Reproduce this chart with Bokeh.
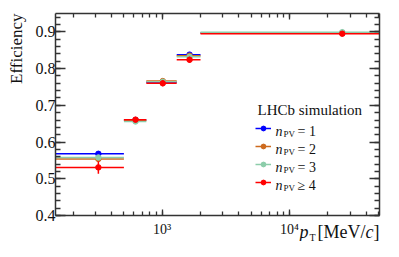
import math
from bokeh.plotting import figure
from bokeh.models import (Range1d, LogAxis, LinearAxis, FixedTicker, LogTicker,
                          Label, Legend, LegendItem, ColumnDataSource,
                          CustomJSTickFormatter, Title)
from bokeh.core.properties import value
from bokeh.embed import file_html
from bokeh.resources import INLINE

# ---------------- data ----------------
bin_edges = [100, 500, 750, 1300, 2000, 100000]      # pT bin edges [MeV/c]
pt_mean = [315, 617, 1010, 1640, 26000]              # point positions [MeV/c]

eff_npv1 = [0.568, 0.660, 0.763, 0.838, 0.897]
eff_npv2 = [0.554, 0.659, 0.766, 0.835, 0.897]
eff_npv3 = [0.558, 0.656, 0.764, 0.832, 0.899]
eff_npv4 = [0.531, 0.661, 0.760, 0.824, 0.895]

err_npv1 = [0.004, 0.003, 0.002, 0.002, 0.001]
err_npv2 = [0.005, 0.004, 0.003, 0.003, 0.002]
err_npv3 = [0.007, 0.005, 0.004, 0.004, 0.002]
err_npv4 = [0.017, 0.007, 0.008, 0.008, 0.003]

series_rel = ["=", "=", "=", "≥"]
series_num = ["1", "2", "3", "4"]
colors = ["#0000ff", "#cd6a1e", "#8ccdaa", "#ff0000"]

y_major = [0.4, 0.5, 0.6, 0.7, 0.8, 0.9]
y_minor = [round(0.4 + 0.02 * i, 2) for i in range(28)]
x_labels = {1000: "10³", 10000: "10⁴"}

FONT = "Liberation Serif"
INK = "#111111"

# ---------------- figure ----------------
p = figure(width=383, height=241, x_axis_type="log",
           x_range=Range1d(145, 51000), y_range=Range1d(0.4, 0.95),
           output_backend="svg", toolbar_location=None,
           min_border_left=55, min_border_right=4,
           min_border_top=13, min_border_bottom=26)
p.grid.visible = False
p.outline_line_color = None
p.background_fill_color = "white"


def style_axis(ax, major_in, minor_in):
    ax.axis_line_color = "#333333"
    ax.axis_line_width = 1.5
    ax.major_tick_line_color = "#333333"
    ax.minor_tick_line_color = "#333333"
    ax.major_tick_line_width = 1.3
    ax.minor_tick_line_width = 1.3
    ax.major_tick_in = major_in
    ax.major_tick_out = 0
    ax.minor_tick_in = minor_in
    ax.minor_tick_out = 0
    ax.major_label_text_font = FONT
    ax.major_label_text_color = INK


xticker = LogTicker(num_minor_ticks=10)
yticker = FixedTicker(ticks=y_major, minor_ticks=y_minor)

xb = p.xaxis[0]
xb.ticker = xticker
style_axis(xb, 6, 4)
xb.formatter = CustomJSTickFormatter(
    args=dict(labels={str(k): v for k, v in x_labels.items()}),
    code="const k = String(Math.round(tick)); return (k in labels) ? labels[k] : '';")
xb.major_label_text_font_size = "14px"
xb.major_label_standoff = 6

yl = p.yaxis[0]
yl.ticker = yticker
style_axis(yl, 10, 5)
yl.major_label_text_font_size = "16px"
yl.major_label_standoff = 0

blank = CustomJSTickFormatter(code="return '';")

xt = LogAxis(ticker=xticker, formatter=blank)
style_axis(xt, 6, 4)
xt.major_label_text_font_size = "1px"
xt.major_label_standoff = 0
p.add_layout(xt, "above")

yr = LinearAxis(ticker=yticker, formatter=blank)
style_axis(yr, 10, 5)
yr.major_label_text_font_size = "1px"
yr.major_label_standoff = 0
p.add_layout(yr, "right")


def side_title(text, side, size, style="normal", align="left",
               valign="top", standoff=0, offset=0):
    p.add_layout(Title(text=text, align=align, vertical_align=valign,
                       text_font=FONT, text_font_size=f"{size}px",
                       text_font_style=style, text_line_height=1.0,
                       text_color=INK, standoff=standoff, offset=offset),
                 side)


# y-axis title, top aligned
side_title("Efficiency", "left", 17, align="right", valign="top", standoff=10)

# x-axis title, right aligned, on the tick-label row
side_title("]", "below", 18, align="right", standoff=-36, offset=0)
side_title("c", "below", 18, style="italic", align="right", standoff=-36,
           offset=6)
side_title("[MeV/", "below", 18, align="right", standoff=-36, offset=14)
side_title("p", "below", 18, style="italic", align="left", standoff=-36,
           offset=244)
side_title("T", "below", 10, align="left", standoff=-16, offset=254)

# ---------------- data marks ----------------
effs = [eff_npv1, eff_npv2, eff_npv3, eff_npv4]
errs = [err_npv1, err_npv2, err_npv3, err_npv4]
items = []
for eff, err, col in zip(effs, errs, colors):
    src = ColumnDataSource(dict(
        x=pt_mean, x0=bin_edges[:-1], x1=bin_edges[1:], y=eff,
        ylo=[e - d for e, d in zip(eff, err)],
        yhi=[e + d for e, d in zip(eff, err)]))
    h = p.segment(x0="x0", y0="y", x1="x1", y1="y", source=src,
                  line_color=col, line_width=1.5)
    v = p.segment(x0="x", y0="ylo", x1="x", y1="yhi", source=src,
                  line_color=col, line_width=1.5)
    m = p.scatter("x", "y", source=src, size=5.5, color=col)
    items.append(LegendItem(label=value(" "), renderers=[h, m]))

legend = Legend(items=items, location=(200, 27), glyph_width=16,
                glyph_height=12, label_height=12, label_width=1,
                label_standoff=0, spacing=6, padding=0, margin=0,
                background_fill_alpha=0, border_line_alpha=0,
                label_text_font_size="6px")
p.add_layout(legend)


def lab(text, x, y, size, style="normal"):
    p.add_layout(Label(x=x, y=y, x_units="screen", y_units="screen",
                       text=text, text_font=FONT,
                       text_font_size=f"{size}px", text_font_style=style,
                       text_align="left", text_baseline="alphabetic",
                       text_color=INK))


# legend texts
for i, (rel, num) in enumerate(zip(series_rel, series_num)):
    yc = 87.3 - 18 * i
    lab("n", 220, yc - 3, 14, "italic")
    lab("PV", 228, yc - 6, 9)
    lab(f"{rel} {num}", 242, yc - 3, 14)

lab("LHCb simulation", 202, 106, 15)

open("out.html", "w").write(file_html(p, INLINE))
